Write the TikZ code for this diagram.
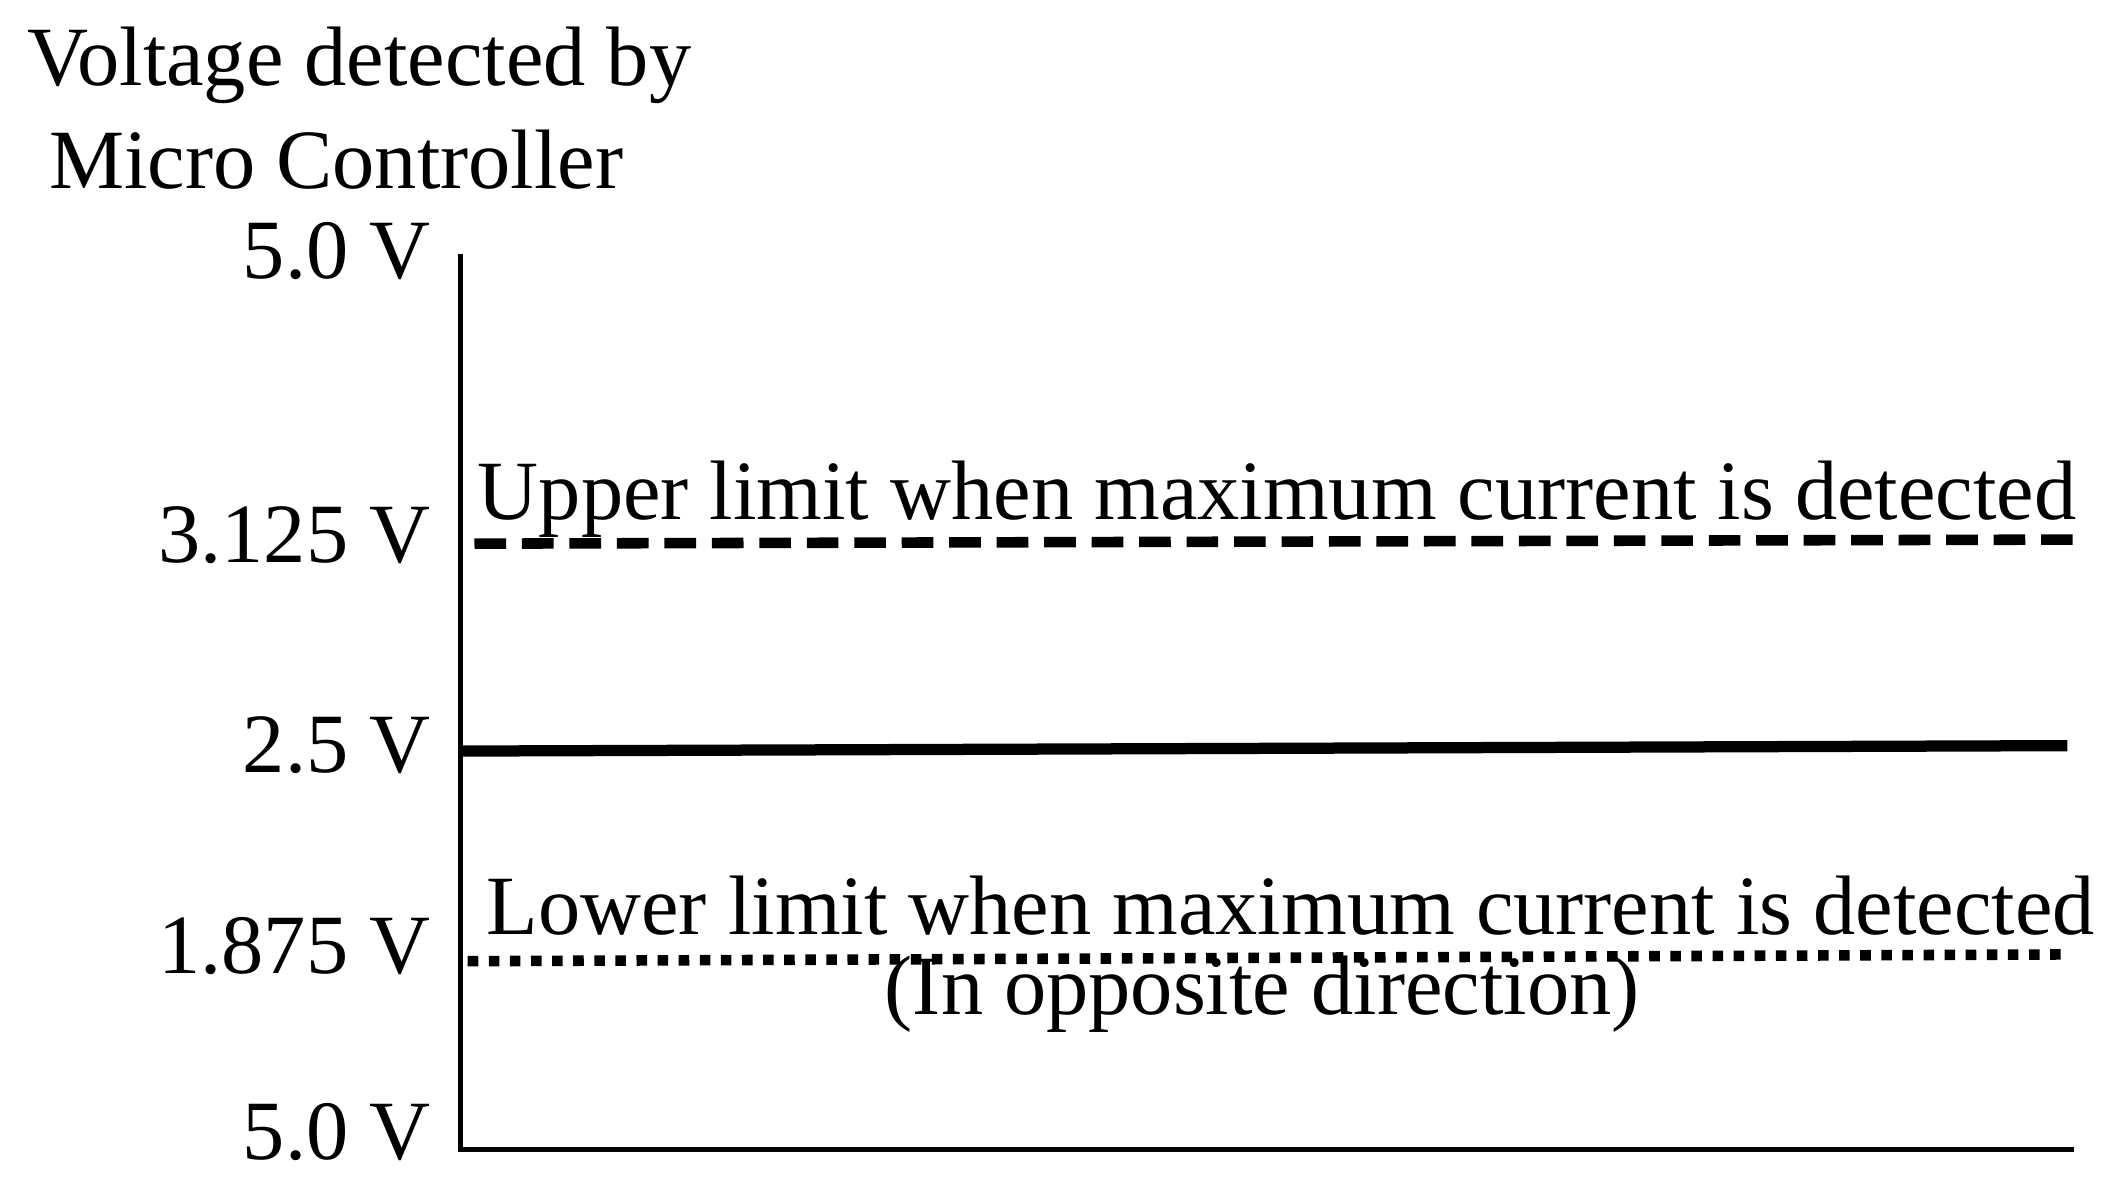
\documentclass[tikz,border=0pt]{standalone}
\usepackage{fontspec}
\setmainfont{Liberation Serif}
\begin{document}
\begin{tikzpicture}[x=0.013557cm,y=-0.013557cm,
  lbl/.style={font=\fontsize{24}{26}\selectfont,inner sep=0pt},
  axis/.style={line width=1.4pt}]
\useasboundingbox (0,0) rectangle (1552,882);
\node[lbl] (t1) at (265,48) {Voltage detected by};
\node[lbl] (t2) at (248,118) {Micro Controller};
\node[lbl,anchor=east] (v5) at (318,185) {5.0 V};
\node[lbl,anchor=east] (v3) at (318,395) {3.125 V};
\node[lbl,anchor=east] (v25) at (318,550) {2.5 V};
\node[lbl,anchor=east] (v18) at (318,698) {1.875 V};
\node[lbl,anchor=east] (v0) at (318,835) {5.0 V};
\coordinate (top) at (340,187);
\coordinate (org) at (340,848);
\coordinate (br) at (1530,848);
\draw[axis] (top) -- (org) -- (br);
\coordinate (u1) at (350,401); \coordinate (u2) at (1530,398);
\draw[line width=3pt,dash pattern=on 9pt off 4.5pt] (u1) -- (u2);
\coordinate (m1) at (340,554); \coordinate (m2) at (1525,550);
\draw[line width=3.2pt] (m1) -- (m2);
\coordinate (l1) at (345,709); \coordinate (l2) at (1525,704);
\draw[line width=3pt,dash pattern=on 3pt off 3pt] (l1) -- (l2);
\node[lbl] (up) at (942,368) {Upper limit when maximum current is detected};
\node[lbl] (lo) at (952,668) {Lower limit when maximum current is detected};
\node[lbl] (op) at (931,733) {(In opposite direction)};
\end{tikzpicture}
\end{document}
